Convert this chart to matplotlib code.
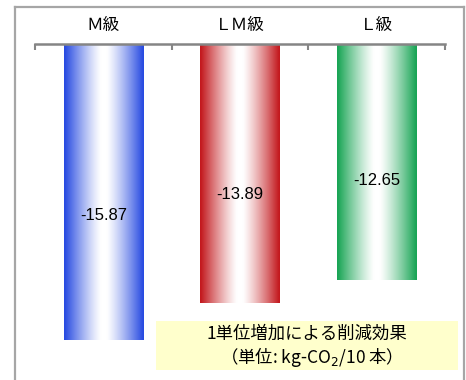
import numpy as np
import matplotlib.pyplot as plt
from matplotlib.colors import to_rgb
from matplotlib.patches import Rectangle
from matplotlib.lines import Line2D

plt.rcParams['font.family'] = ['Noto Sans CJK JP', 'DejaVu Sans']

categories = ['Ｍ級', 'ＬＭ級', 'Ｌ級']
values = [-15.87, -13.89, -12.65]
edge_colors = ['#284be1', '#c3191e', '#19a555']
note_lines = ['1単位増加による削減効果', '（単位: kg-CO$_2$/10 本）']

W, H = 466, 380
fig = plt.figure(figsize=(W / 100, H / 100), dpi=100)
ax = fig.add_axes([35 / W, 0, 410 / W, 336 / H])

x = np.arange(len(categories))
bars = ax.bar(x, values, width=0.58, color='none', edgecolor='none')

# horizontal white-centred gradient inside each bar
xs = np.linspace(-1, 1, 200)
fade = np.clip(np.abs(xs) * 1.1 - 0.08, 0, 1) ** 1.2
for bar, c in zip(bars, edge_colors):
    rgb = np.array(to_rgb(c))
    row = 1 - fade[:, None] * (1 - rgb[None, :])
    img = np.repeat(row[None, :, :], 2, axis=0)
    x0, y0 = bar.get_x(), bar.get_y()
    w, h = bar.get_width(), bar.get_height()
    ax.imshow(img, extent=[x0, x0 + w, y0 + h, y0], aspect='auto',
              interpolation='bilinear', zorder=2)

for xi, v in zip(x, values):
    ax.text(xi, v * 0.58, f'{v:.2f}', ha='center', va='center', fontsize=12,
            family=['Liberation Sans', 'DejaVu Sans'], zorder=3)

ax.set_xlim(-0.5, len(categories) - 0.5)
ax.set_ylim(-18, 0)

ax.xaxis.set_ticks_position('top')
ax.set_xticks(x)
ax.set_xticklabels(categories, fontsize=12)
ax.tick_params(axis='x', which='major', length=0, pad=7)
ax.set_xticks(np.arange(len(categories) + 1) - 0.5, minor=True)
ax.tick_params(axis='x', which='minor', direction='in', length=4,
               width=1.5, color='#858585')
ax.set_yticks([])
for side in ['left', 'right', 'bottom']:
    ax.spines[side].set_visible(False)
ax.spines['top'].set_color('#858585')
ax.spines['top'].set_linewidth(1.8)

# outer frame (open at the bottom)
frame = dict(color='#a6a6a6', lw=1.6, transform=fig.transFigure)
fig.add_artist(Line2D([15 / W, 15 / W], [0, 1 - 7 / H], **frame))
fig.add_artist(Line2D([15 / W, 464 / W], [1 - 7 / H, 1 - 7 / H], **frame))
fig.add_artist(Line2D([464 / W, 464 / W], [0, 1 - 7 / H], **frame))

# unit note
fig.add_artist(Rectangle((156 / W, 1 - 370 / H), 302 / W, 49 / H,
                         transform=fig.transFigure, facecolor='#ffffcc',
                         edgecolor='none', zorder=4))
fig.text(307 / W, 1 - 334 / H, note_lines[0], ha='center', va='center',
         fontsize=12.5, zorder=5)
fig.text(307 / W, 1 - 357 / H, note_lines[1], ha='center', va='center',
         fontsize=12.5, zorder=5)

fig.savefig('out.png', dpi=100)
